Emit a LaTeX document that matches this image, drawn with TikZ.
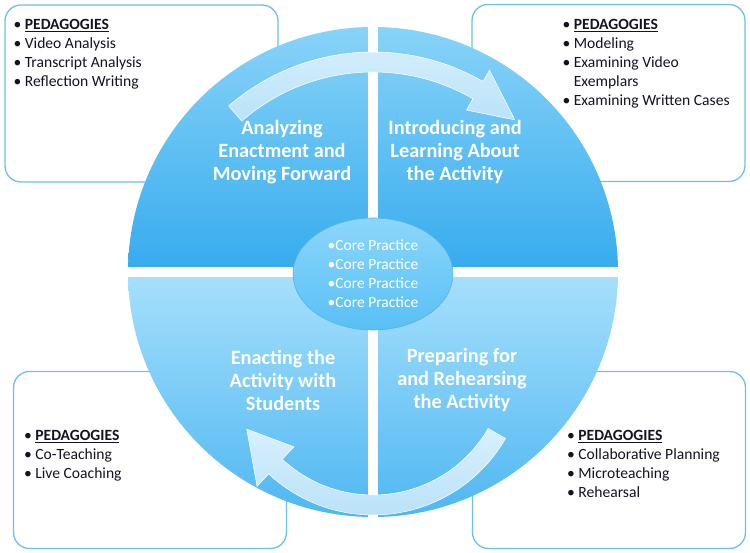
\documentclass[tikz,border=0pt]{standalone}
\usepackage{fontspec}
\setmainfont{Carlito}
\usetikzlibrary{positioning}
\usetikzlibrary{shapes}

\definecolor{boxLine}{RGB}{110,192,230}
\definecolor{boxText}{RGB}{20,20,32}
\definecolor{topLight}{RGB}{138,212,248}
\definecolor{topDark}{RGB}{54,171,238}
\definecolor{botLight}{RGB}{168,224,252}
\definecolor{botDark}{RGB}{76,182,241}
\definecolor{arrowLight}{RGB}{216,240,252}
\definecolor{arrowDark}{RGB}{186,226,249}
\definecolor{coreLight}{RGB}{140,214,250}
\definecolor{coreDark}{RGB}{88,192,245}
\definecolor{coreLine}{RGB}{88,178,230}

\begin{document}
\begin{tikzpicture}[x = 1pt, y = 1pt, font=\fontsize{15.6}{19}\selectfont]
	\tikzstyle{boxStyle} = [draw = boxLine, line width = 1.3pt, rounded corners = 16pt, fill = white, minimum width = 273pt, minimum height = 177pt, inner sep = 0pt]
	\tikzstyle{pedStyle} = [anchor = north west, inner sep = 0pt, align = left, text = boxText]
	\tikzstyle{quadStyle} = [align = center, text = white, inner sep = 0pt, font = \fontsize{20.3}{23}\selectfont\bfseries]
	\tikzstyle{coreStyle} = [shape = ellipse, minimum width = 160pt, minimum height = 112pt, inner sep = 0pt, draw = coreLine, line width = 0.6pt, top color = coreLight, bottom color = coreDark, align = left, text = white, font = \fontsize{15.5}{19}\selectfont]
	\tikzstyle{arrowStyle} = [top color = arrowLight, bottom color = arrowDark, draw = white, line width = 0.5pt]
	\useasboundingbox (0, 0) rectangle (750, 552);
	\node[boxStyle] (boxTL) at (141.5, 458.5) {};
	\node[boxStyle] (boxTR) at (608.5, 459) {};
	\node[boxStyle] (boxBL) at (150, 92) {};
	\node[boxStyle] (boxBR) at (609, 92) {};
	\node[pedStyle] (pedTL) at ([shift = {(9, -15)}]boxTL.north west) {• \underline{\textbf{PEDAGOGIES}}\\• Video Analysis\\• Transcript Analysis\\• Reflection Writing};
	\node[pedStyle] (pedTR) at ([shift = {(91, -15)}]boxTR.north west) {• \underline{\textbf{PEDAGOGIES}}\\• Modeling\\• Examining Video\\\phantom{• }Exemplars\\• Examining Written Cases};
	\node[pedStyle] (pedBL) at ([shift = {(11, -59)}]boxBL.north west) {• \underline{\textbf{PEDAGOGIES}}\\• Co-Teaching\\• Live Coaching};
	\node[pedStyle] (pedBR) at ([shift = {(95, -59)}]boxBR.north west) {• \underline{\textbf{PEDAGOGIES}}\\• Collaborative Planning\\• Microteaching\\• Rehearsal};
	\coordinate (ctr) at (373, 280);
	\coordinate (arcC) at (373, 190);
	\begin{scope}
		\clip (ctr) circle (245);
		\shade[top color = topLight, bottom color = topDark] ([xshift = -250]ctr) rectangle ([shift = {(250, 250)}]ctr);
		\shade[top color = botLight, bottom color = botDark] ([xshift = -250]ctr) rectangle ([shift = {(250, -250)}]ctr);
		\fill[white] ([shift = {(-250, -5)}]ctr) rectangle ([shift = {(250, 5)}]ctr);
		\fill[white] ([shift = {(-5, -250)}]ctr) rectangle ([shift = {(5, 250)}]ctr);
	\end{scope}
	\path[arrowStyle] ([shift = {(131:220)}]ctr) arc[start angle = 131, end angle = 60, radius = 220] -- ([shift = {(60:233)}]ctr) -- ([shift = {(47:208)}]ctr) -- ([shift = {(60:187)}]ctr) -- ([shift = {(60:200)}]ctr) arc[start angle = 60, end angle = 131, radius = 200] -- cycle;
	\path[arrowStyle] ([shift = {(-30:153)}]arcC) arc[start angle = -30, end angle = -133, radius = 153] -- ([shift = {(-133:170)}]arcC) -- ([shift = {(-152:143)}]arcC) -- ([shift = {(-133:116)}]arcC) -- ([shift = {(-133:133)}]arcC) arc[start angle = -133, end angle = -30, radius = 133] -- cycle;
	\node[coreStyle] (core) at (373, 278) {•Core Practice\\•Core Practice\\•Core Practice\\•Core Practice};
	\node[quadStyle] (quadAnalyze) at (282, 400) {Analyzing\\Enactment and\\Moving Forward};
	\node[quadStyle] (quadIntro) at (455, 400) {Introducing and\\Learning About\\the Activity};
	\node[quadStyle] (quadEnact) at (283, 172) {Enacting the\\Activity with\\Students};
	\node[quadStyle] (quadPrep) at (462, 172) {Preparing for\\and Rehearsing\\the Activity};
\end{tikzpicture}
\end{document}
